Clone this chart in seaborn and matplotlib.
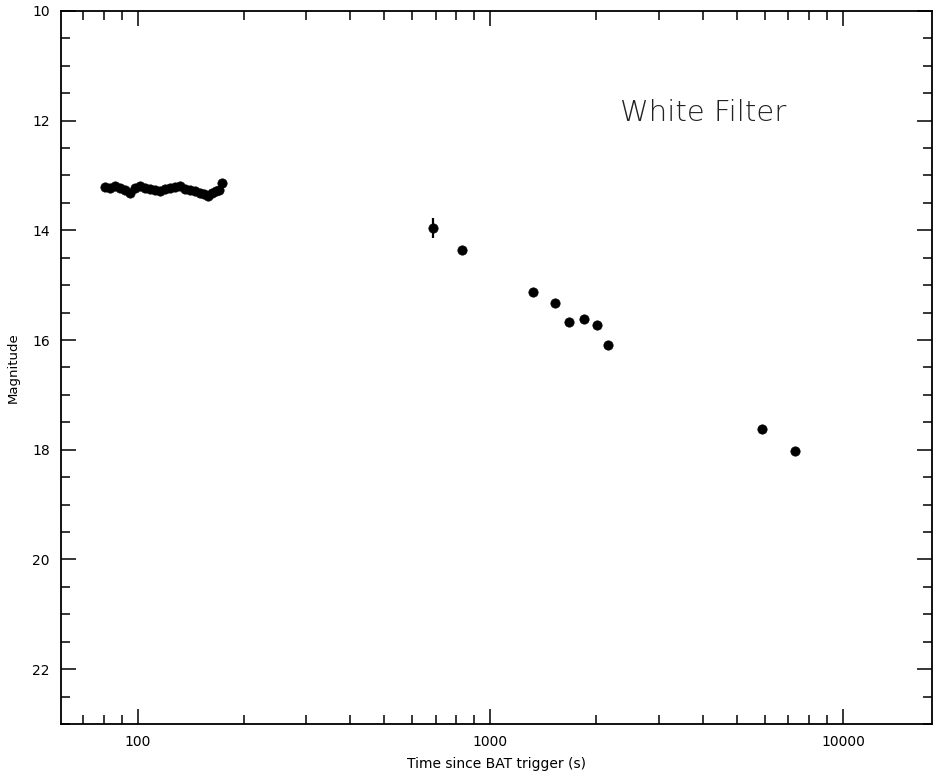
import matplotlib
matplotlib.use("Agg")
import matplotlib.pyplot as plt
import matplotlib.ticker as mticker
import numpy as np
import pandas as pd
import seaborn as sns

# early finding-chart exposures
t_early = [80.8, 83.5, 86.2, 89.1, 92.0, 95.1, 98.2, 101.5, 104.8, 108.3, 111.9, 115.7, 119.5,
           123.5, 127.6, 131.8, 136.2, 140.7, 145.4, 150.2, 154.2, 158.3, 162.5, 166.9, 170.3, 173.8]
mag_early = [13.21, 13.23, 13.19, 13.23, 13.26, 13.32, 13.23, 13.19, 13.23, 13.25, 13.26, 13.28, 13.25,
             13.23, 13.21, 13.19, 13.25, 13.26, 13.28, 13.32, 13.34, 13.37, 13.32, 13.28, 13.26, 13.14]
err_early = [0.04] * len(t_early)

# later exposures
t_late = [688, 832, 1321, 1527, 1673, 1846, 2009, 2159, 5902, 7325]
mag_late = [13.96, 14.36, 15.12, 15.32, 15.67, 15.62, 15.72, 16.09, 17.62, 18.02]
err_late = [0.18, 0.08, 0.05, 0.05, 0.06, 0.05, 0.06, 0.08, 0.05, 0.05]

df = pd.DataFrame({
    "time": t_early + t_late,
    "mag": mag_early + mag_late,
    "err": err_early + err_late,
})

sns.set_style("ticks")
plt.rcParams["font.family"] = ["DejaVu Sans"]

fig = plt.figure(figsize=(9.37, 7.8), dpi=100)
ax = fig.add_axes([0.0651, 0.0718, 0.9296, 0.9142])

ax.errorbar(df["time"], df["mag"], yerr=df["err"], fmt="none", ecolor="black", elinewidth=1.6, capsize=0)
sns.scatterplot(data=df, x="time", y="mag", ax=ax, color="black", s=45, edgecolor="black", linewidth=0.5, zorder=3)

ax.set_xscale("log")
ax.set_xlim(60.6, 17900)
ax.set_ylim(23, 10)

ax.xaxis.set_major_locator(mticker.LogLocator(base=10, numticks=10))
ax.xaxis.set_minor_locator(mticker.LogLocator(base=10, subs=np.arange(2, 10), numticks=20))
ax.xaxis.set_major_formatter(mticker.FuncFormatter(lambda v, p: f"{v:.0f}"))
ax.xaxis.set_minor_formatter(mticker.NullFormatter())
ax.yaxis.set_major_locator(mticker.MultipleLocator(2))
ax.yaxis.set_minor_locator(mticker.MultipleLocator(0.5))

ax.tick_params(which="both", direction="in", top=True, right=True, colors="black", labelsize=10, width=1.1)
ax.tick_params(which="major", length=11, pad=8)
ax.tick_params(which="minor", length=6.5)
for s in ax.spines.values():
    s.set_linewidth(1.3)
    s.set_color("black")

ax.set_xlabel("Time since BAT trigger (s)", fontsize=10, labelpad=6, color="black")
ax.set_ylabel("Magnitude", fontsize=9.5, labelpad=9, color="black")

ax.text(0.737, 0.857, "White Filter", transform=ax.transAxes, fontsize=21,
        ha="center", va="center", fontweight="light", color="#222222")

fig.savefig("out.png", dpi=100)
